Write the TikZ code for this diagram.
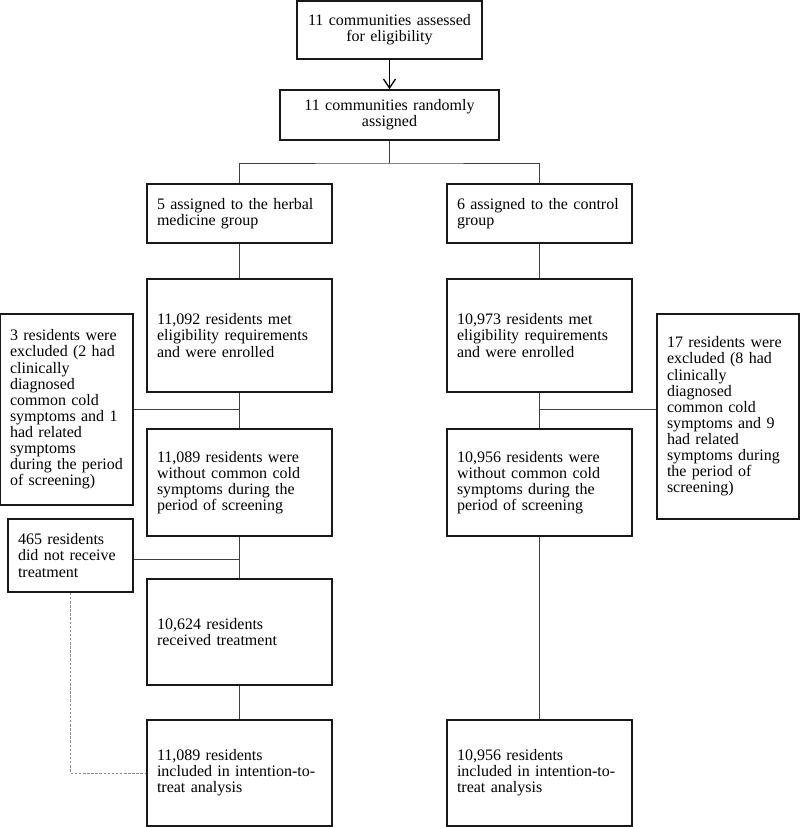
\documentclass[tikz,border=0pt]{standalone}
\usepackage{fontspec}
\setmainfont{Liberation Serif}
\usetikzlibrary{arrows.meta}

\tikzset{
    box/.style = {draw=black!90, line width=1.7pt, rectangle, inner xsep=10pt, inner ysep=0pt,
                  font=\fontsize{16}{16.1}\selectfont, align=left},
    cbox/.style = {box, align=center},
    link/.style = {draw=black!75, line width=1pt},
    skip/.style = {draw=black!45, line width=1pt, dash pattern=on 2.5pt off 1.6pt}
}

\begin{document}
\begin{tikzpicture}[x=1pt, y=-1pt]
            \useasboundingbox (0,0) rectangle (800,827);

            % top of the chart
            \node[cbox, minimum width=185, minimum height=58, text width=165] (assess) at (389.5,30)
                {11 communities assessed\\for eligibility};
            \node[cbox, minimum width=219, minimum height=50, text width=199] (rand) at (389.5,115)
                {11 communities randomly\\assigned};

            % two arms
            \node[box, minimum width=185, minimum height=59, text width=165] (herbal) at (239.5,213.5)
                {5 assigned to the herbal\\medicine group};
            \node[box, minimum width=185, minimum height=59, text width=165] (ctrl) at (539.5,213.5)
                {6 assigned to the control\\group};

            \node[box, minimum width=185, minimum height=113, text width=165] (enrolH) at (239.5,335.5)
                {11,092 residents met\\eligibility requirements\\and were enrolled};
            \node[box, minimum width=185, minimum height=113, text width=165] (enrolC) at (539.5,335.5)
                {10,973 residents met\\eligibility requirements\\and were enrolled};

            \node[box, minimum width=133, minimum height=191, text width=113] (exclH) at (66.5,409.5)
                {3 residents were\\excluded (2 had\\clinically\\diagnosed\\common cold\\symptoms and 1\\had related\\symptoms\\during the period\\of screening)};
            \node[box, minimum width=142, minimum height=205, text width=122] (exclC) at (728,416.5)
                {17 residents were\\excluded (8 had\\clinically\\diagnosed\\common cold\\symptoms and 9\\had related\\symptoms during\\the period of\\screening)};

            \node[box, minimum width=185, minimum height=107, text width=165] (withoutH) at (239.5,482.5)
                {11,089 residents were\\without common cold\\symptoms during the\\period of screening};
            \node[box, minimum width=185, minimum height=107, text width=165] (withoutC) at (539.5,482.5)
                {10,956 residents were\\without common cold\\symptoms during the\\period of screening};

            \node[box, minimum width=125, minimum height=73, text width=105] (notrec) at (70.5,555.5)
                {465 residents\\did not receive\\treatment};
            \node[box, minimum width=185, minimum height=106, text width=165] (recv) at (239.5,632)
                {10,624 residents\\received treatment};

            \node[box, minimum width=185, minimum height=106, text width=165] (ittH) at (239.5,773)
                {11,089 residents\\included in intention-to-\\treat analysis};
            \node[box, minimum width=185, minimum height=106, text width=165] (ittC) at (539.5,773)
                {10,956 residents\\included in intention-to-\\treat analysis};

            % junctions
            \coordinate (split) at (389.5,163);
            \coordinate (jH) at (239.5,409);
            \coordinate (jC) at (539.5,409);
            \coordinate (jN) at (239.5,559);

            % connectors
            \draw[line width=1.3pt, -{Straight Barb[length=9pt, width=12pt]}] (assess) -- (rand);
            \draw[link] (rand) -- (split);
            \draw[link] (herbal.north) |- (split) -| (ctrl.north);
            \draw[link] (herbal) -- (enrolH);
            \draw[link] (ctrl) -- (enrolC);
            \draw[link] (enrolH) -- (withoutH);
            \draw[link] (enrolC) -- (withoutC);
            \draw[link] (exclH.east |- jH) -- (jH);
            \draw[link] (jC) -- (exclC.west |- jC);
            \draw[link] (withoutH) -- (recv);
            \draw[link] (notrec.east |- jN) -- (jN);
            \draw[link] (recv) -- (ittH);
            \draw[link] (withoutC) -- (ittC);
            \draw[skip] (notrec.south) |- (ittH.west);
        \end{tikzpicture}
\end{document}
